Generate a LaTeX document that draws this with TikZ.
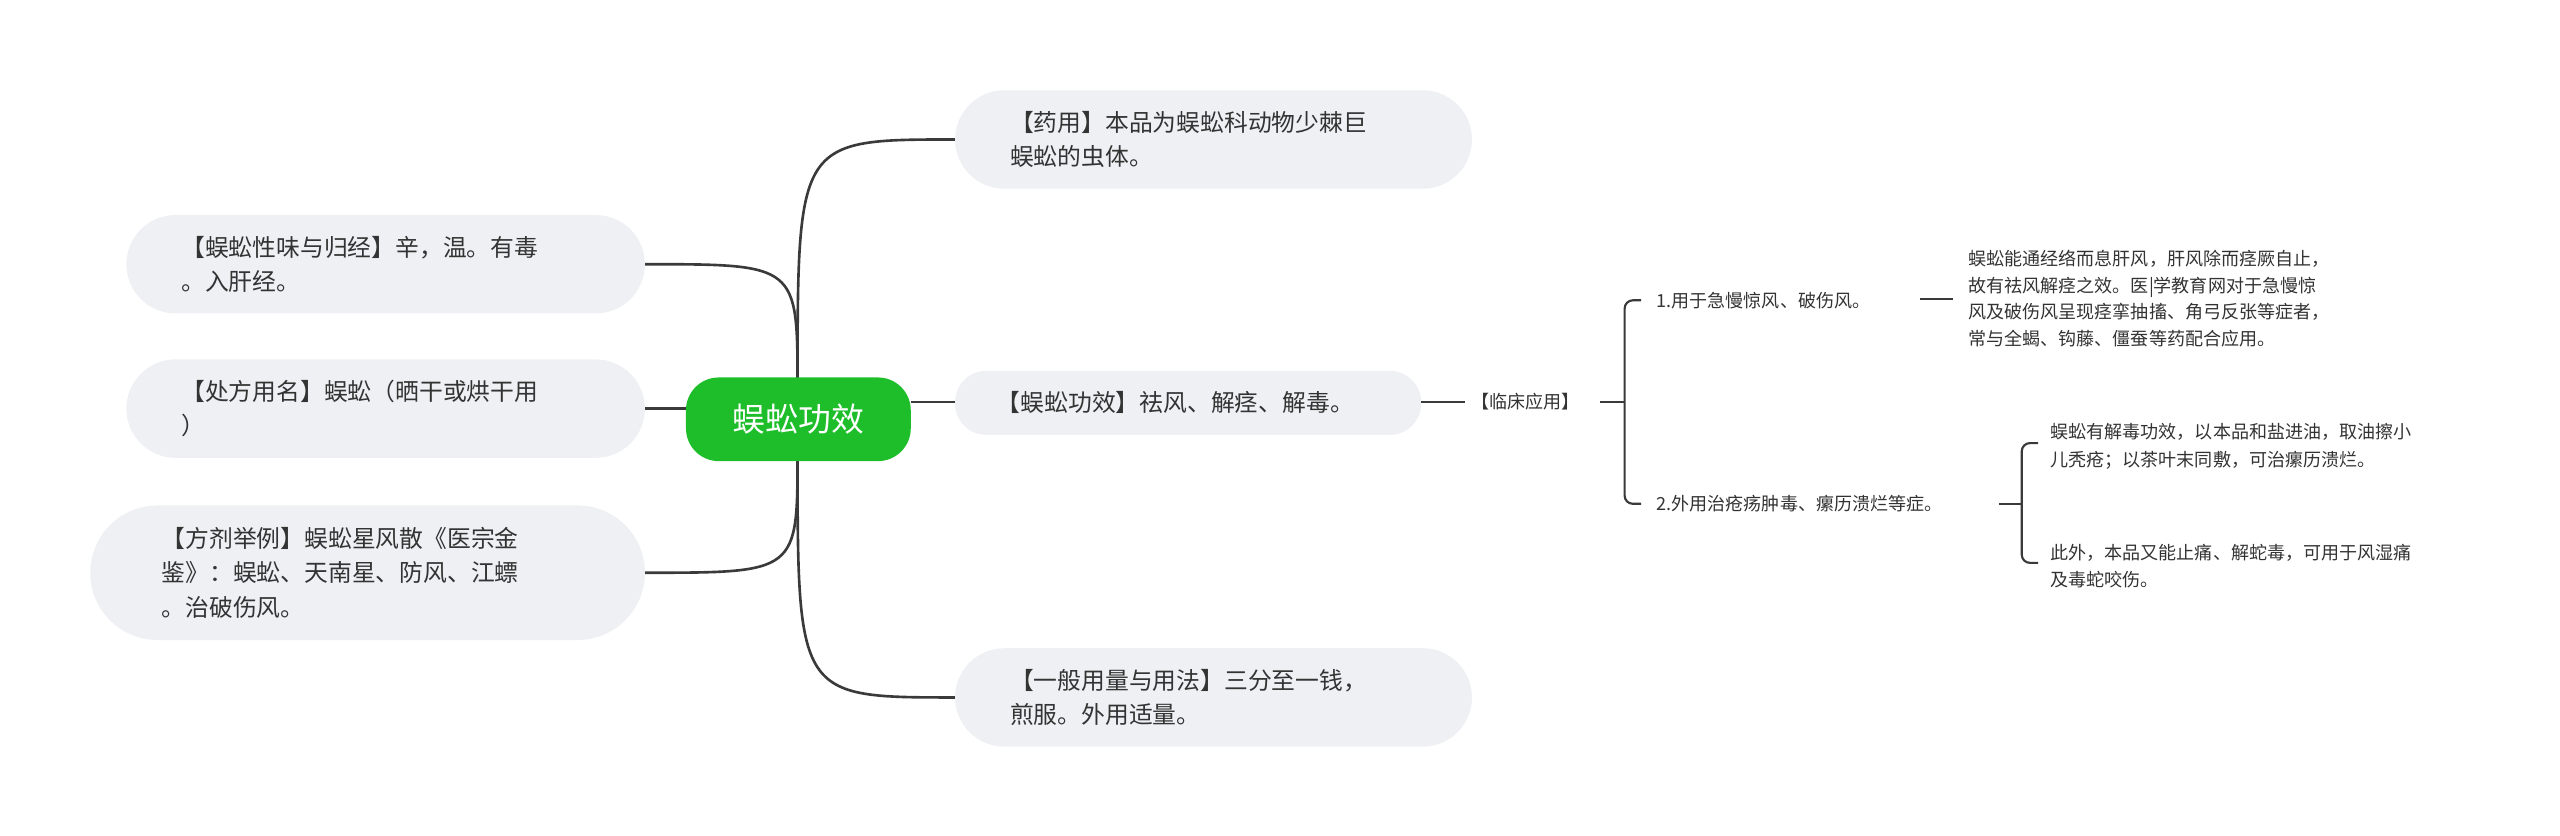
\documentclass[tikz,border=0pt]{standalone}
\usepackage{fontspec}
\setmainfont{Noto Sans CJK SC}
\begin{document}
\begin{tikzpicture}[x=1pt,y=-1pt,
  pill/.style={fill=gbg,rounded corners=20pt,inner sep=0pt},
  txt/.style={font=\fontsize{14.5}{21}\selectfont,text=tcol,align=left,anchor=west},
  small/.style={font=\fontsize{11}{16.5}\selectfont,text=tcol,align=left,anchor=west},
  conn/.style={draw=lcol,line width=1.6pt}]
\definecolor{gbg}{HTML}{EEF0F3}
\definecolor{tcol}{HTML}{333333}
\definecolor{lcol}{HTML}{3A3A3A}
\definecolor{green}{HTML}{1DBE2A}
\useasboundingbox (0,0) rectangle (1560,509);
% connectors (drawn first)
\coordinate (ct) at (486,236);
\coordinate (cb) at (486,276);
\draw[conn] (ct) .. controls (486,85) .. (582,85);
\draw[conn] (cb) .. controls (486,425) .. (582,425);
\draw[conn] (555,245) -- (582,245);
\draw[conn] (ct) .. controls (486,161) .. (393,161);
\draw[conn] (418,249) -- (393,249);
\draw[conn] (cb) .. controls (486,349) .. (393,349);
% right nodes
\fill[gbg,rounded corners=30pt] (582,55) rectangle (897,115);
\node[txt] (yy) at (612,85) {【药用】本品为蜈蚣科动物少棘巨\\蜈蚣的虫体。};
\fill[gbg,rounded corners=19pt] (582,226) rectangle (866,265);
\node[txt] (gx) at (604,245.5) {【蜈蚣功效】祛风、解痉、解毒。};
\fill[gbg,rounded corners=30pt] (582,395) rectangle (897,455);
\node[txt] (yl) at (612,425) {【一般用量与用法】三分至一钱，\\煎服。外用适量。};
% left nodes
\fill[gbg,rounded corners=30pt] (77,131) rectangle (393,191);
\node[txt] (xw) at (107,161) {【蜈蚣性味与归经】辛，温。有毒\\。入肝经。};
\fill[gbg,rounded corners=30pt] (77,219) rectangle (393,279);
\node[txt] (cf) at (107,249) {【处方用名】蜈蚣（晒干或烘干用\\）};
\fill[gbg,rounded corners=41pt] (55,308) rectangle (393,390);
\node[txt] (fj) at (95,349) {【方剂举例】蜈蚣星风散《医宗金\\鉴》：蜈蚣、天南星、防风、江螵\\。治破伤风。};
% center
\fill[green,rounded corners=20pt] (418,230) rectangle (555,281);
\node[font=\fontsize{20}{24}\selectfont,text=white] (c) at (486.5,255.5) {蜈蚣功效};
% clinical
\node[small] (lc) at (893,245) {【临床应用】};
\draw[conn,line width=1.3pt] (866,245) -- (lc.west);
\draw[conn,line width=1.3pt] (975,245) -- (990,245);
\draw[conn,line width=1.3pt] (1000,183) -- (995,183) to[out=180,in=90] (990,188) -- (990,302) to[out=-90,in=180] (995,307) -- (1000,307);
\node[small] (a1) at (1006,183) {1.用于急慢惊风、破伤风。};
\node[small] (a2) at (1006,307) {2.外用治疮疡肿毒、瘰历溃烂等症。};
\draw[conn,line width=1.3pt] (1170,182) -- (1190,182);
\node[small,font=\fontsize{11}{16.3}\selectfont] (b1) at (1196,182) {蜈蚣能通经络而息肝风，肝风除而痉厥自止，\\故有祛风解痉之效。医|学教育网对于急慢惊\\风及破伤风呈现痉挛抽搐、角弓反张等症者，\\常与全蝎、钩藤、僵蚕等药配合应用。};
\draw[conn,line width=1.3pt] (1218,307) -- (1232,307);
\draw[conn,line width=1.3pt] (1242,270) -- (1237,270) to[out=180,in=90] (1232,275) -- (1232,338) to[out=-90,in=180] (1237,343) -- (1242,343);
\node[small] (b2) at (1246,272) {蜈蚣有解毒功效，以本品和盐进油，取油擦小\\儿秃疮；以茶叶末同敷，可治瘰历溃烂。};
\node[small] (b3) at (1246,345) {此外，本品又能止痛、解蛇毒，可用于风湿痛\\及毒蛇咬伤。};
\end{tikzpicture}
\end{document}
